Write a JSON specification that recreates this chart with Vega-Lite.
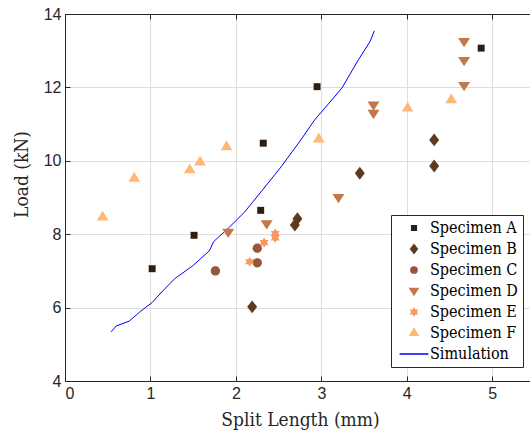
{
  "$schema": "https://vega.github.io/schema/vega-lite/v6.json",
  "width": 470,
  "height": 367,
  "autosize": "none",
  "padding": {"left": 65, "top": 14, "right": 0, "bottom": 55},
  "background": "white",
  "config": {
    "view": {"stroke": "#262626", "strokeWidth": 1},
    "axis": {
      "domainColor": "#262626",
      "tickColor": "#262626",
      "gridColor": "#dedede",
      "labelFont": "Liberation Sans",
      "labelFontSize": 16,
      "labelColor": "#262626",
      "titleFont": "DejaVu Serif Condensed",
      "titleFontSize": 19,
      "titleFontWeight": "normal",
      "titleColor": "#262626",
      "tickSize": -5,
      "labelPadding": 9
    },
    "legend": {
      "orient": "none",
      "legendX": 326,
      "legendY": 201,
      "strokeColor": "#262626",
      "fillColor": "white",
      "padding": 5,
      "labelFont": "DejaVu Serif Condensed",
      "labelFontSize": 16,
      "labelColor": "#000000",
      "rowPadding": 5,
      "symbolSize": 64,
      "symbolOffset": 10,
      "labelOffset": 8
    }
  },
  "datasets": {
    "specimens": [
      {"series": "Specimen A", "split": 1.02, "load": 7.06},
      {"series": "Specimen A", "split": 1.51, "load": 7.97},
      {"series": "Specimen A", "split": 2.29, "load": 8.65},
      {"series": "Specimen A", "split": 2.32, "load": 10.48},
      {"series": "Specimen A", "split": 2.95, "load": 12.02},
      {"series": "Specimen A", "split": 4.87, "load": 13.07},
      {"series": "Specimen B", "split": 2.19, "load": 6.02},
      {"series": "Specimen B", "split": 2.69, "load": 8.25},
      {"series": "Specimen B", "split": 2.72, "load": 8.42},
      {"series": "Specimen B", "split": 3.45, "load": 9.66},
      {"series": "Specimen B", "split": 4.32, "load": 9.86},
      {"series": "Specimen B", "split": 4.32, "load": 10.57},
      {"series": "Specimen C", "split": 1.76, "load": 7.0},
      {"series": "Specimen C", "split": 2.25, "load": 7.22},
      {"series": "Specimen C", "split": 2.25, "load": 7.62},
      {"series": "Specimen D", "split": 1.91, "load": 8.05},
      {"series": "Specimen D", "split": 2.36, "load": 8.28},
      {"series": "Specimen D", "split": 3.2, "load": 9.0},
      {"series": "Specimen D", "split": 3.61, "load": 11.29},
      {"series": "Specimen D", "split": 3.61, "load": 11.52},
      {"series": "Specimen D", "split": 4.67, "load": 12.05},
      {"series": "Specimen D", "split": 4.67, "load": 12.73},
      {"series": "Specimen D", "split": 4.67, "load": 13.25},
      {"series": "Specimen E", "split": 2.16, "load": 7.25},
      {"series": "Specimen E", "split": 2.33, "load": 7.77},
      {"series": "Specimen E", "split": 2.46, "load": 7.9},
      {"series": "Specimen E", "split": 2.46, "load": 8.02},
      {"series": "Specimen F", "split": 0.44, "load": 8.46},
      {"series": "Specimen F", "split": 0.81, "load": 9.52},
      {"series": "Specimen F", "split": 1.46, "load": 9.75},
      {"series": "Specimen F", "split": 1.58, "load": 9.96},
      {"series": "Specimen F", "split": 1.89, "load": 10.38},
      {"series": "Specimen F", "split": 2.97, "load": 10.59},
      {"series": "Specimen F", "split": 4.01, "load": 11.43},
      {"series": "Specimen F", "split": 4.52, "load": 11.66}
    ],
    "simulation": [
      {"series": "Simulation", "split": 0.54, "load": 5.34},
      {"series": "Simulation", "split": 0.6, "load": 5.5},
      {"series": "Simulation", "split": 0.75, "load": 5.63},
      {"series": "Simulation", "split": 0.88, "load": 5.89},
      {"series": "Simulation", "split": 1.02, "load": 6.14},
      {"series": "Simulation", "split": 1.15, "load": 6.47},
      {"series": "Simulation", "split": 1.29, "load": 6.8},
      {"series": "Simulation", "split": 1.49, "load": 7.13},
      {"series": "Simulation", "split": 1.69, "load": 7.55},
      {"series": "Simulation", "split": 1.74, "load": 7.8},
      {"series": "Simulation", "split": 1.91, "load": 8.16},
      {"series": "Simulation", "split": 2.1, "load": 8.6},
      {"series": "Simulation", "split": 2.31, "load": 9.2},
      {"series": "Simulation", "split": 2.53, "load": 9.84},
      {"series": "Simulation", "split": 2.76, "load": 10.57},
      {"series": "Simulation", "split": 2.92, "load": 11.11},
      {"series": "Simulation", "split": 3.24, "load": 11.98},
      {"series": "Simulation", "split": 3.43, "load": 12.74},
      {"series": "Simulation", "split": 3.57, "load": 13.25},
      {"series": "Simulation", "split": 3.62, "load": 13.54}
    ]
  },
  "layer": [
    {
      "data": {"name": "simulation"},
      "mark": {"type": "line", "strokeWidth": 1, "clip": true},
      "encoding": {
        "x": {"field": "split", "type": "quantitative",
              "scale": {"domain": [0, 5.5], "nice": false, "zero": false},
              "axis": {"orient": "top", "labels": false, "grid": false, "title": null, "values": [0, 1, 2, 3, 4, 5]}},
        "y": {"field": "load", "type": "quantitative",
              "scale": {"domain": [4, 14], "nice": false, "zero": false},
              "axis": {"orient": "left", "title": "Load (kN)", "values": [4, 6, 8, 10, 12, 14], "grid": true, "titlePadding": 12, "titleY": 160}},
        "color": {"field": "series", "type": "nominal",
                  "scale": {"domain": ["Specimen A", "Specimen B", "Specimen C", "Specimen D", "Specimen E", "Specimen F", "Simulation"],
                            "range": ["#2e1e12", "#5e3a20", "#96583a", "#c47848", "#f79860", "#ffb87a", "#0000ff"]},
                  "legend": {"title": null}},
        "order": {"field": "split", "type": "quantitative"}
      }
    },
    {
      "data": {"name": "specimens"},
      "mark": {"type": "point", "filled": true, "opacity": 1, "size": 144, "strokeWidth": 0},
      "encoding": {
        "x": {"field": "split", "type": "quantitative",
              "axis": {"orient": "bottom", "title": "Split Length (mm)", "values": [0, 1, 2, 3, 4, 5], "grid": true, "titlePadding": 9}},
        "y": {"field": "load", "type": "quantitative"},
        "color": {"field": "series", "type": "nominal"},
        "shape": {"field": "series", "type": "nominal",
                  "scale": {"domain": ["Specimen A", "Specimen B", "Specimen C", "Specimen D", "Specimen E", "Specimen F", "Simulation"],
                            "range": [
                              "M-0.58,-0.58L0.58,-0.58L0.58,0.58L-0.58,0.58Z",
                              "M0,-1.08L0.83,0L0,1.08L-0.83,0Z",
                              "M-0.78,0A0.78,0.78 0 1,0 0.78,0A0.78,0.78 0 1,0 -0.78,0Z",
                              "M-1,-0.6L1,-0.6L0,0.95Z",
                              "M0,-0.85L0.245,-0.425L0.736,-0.425L0.49,0L0.736,0.425L0.245,0.425L0,0.85L-0.245,0.425L-0.736,0.425L-0.49,0L-0.736,-0.425L-0.245,-0.425Z",
                              "M-0.97,0.55L0.97,0.55L0,-1.1Z",
                              "M-3.6,0L3.6,0"
                            ]},
                  "legend": {"title": null,
                             "symbolStrokeWidth": 1.5,
                             "symbolStrokeColor": "#7f7fff"}}
      }
    }
  ]
}
